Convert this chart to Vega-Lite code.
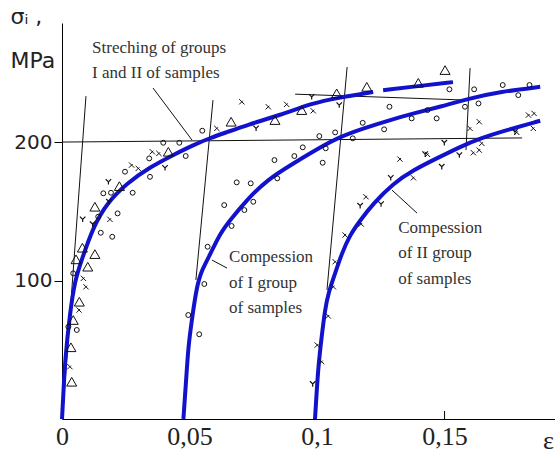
{
  "$schema": "https://vega.github.io/schema/vega-lite/v6.json",
  "width": 493,
  "height": 396,
  "autosize": {"type": "none"},
  "padding": {"left": 62, "top": 23, "right": 0, "bottom": 37},
  "background": "white",
  "config": {"view": {"stroke": null}},
  "datasets": {
    "refs": [
      {"ln": "h200", "eps": 0, "sigma": 200}, {"ln": "h200", "eps": 0.1804, "sigma": 203},
      {"ln": "hup", "eps": 0.0914, "sigma": 234.6}, {"ln": "hup", "eps": 0.1588, "sigma": 230.3},
      {"ln": "v1", "eps": 0.0094, "sigma": 233.2}, {"ln": "v1", "eps": 0.0004, "sigma": 6.5},
      {"ln": "v2", "eps": 0.0592, "sigma": 230.3}, {"ln": "v2", "eps": 0.0525, "sigma": 100.4},
      {"ln": "v3", "eps": 0.1118, "sigma": 254.2}, {"ln": "v3", "eps": 0.1039, "sigma": 93.1},
      {"ln": "v4", "eps": 0.16, "sigma": 253.4}, {"ln": "v4", "eps": 0.1584, "sigma": 194.2},
      {"ln": "l1", "eps": 0.0357, "sigma": 239.0}, {"ln": "l1", "eps": 0.051, "sigma": 201.4},
      {"ln": "l2", "eps": 0.0588, "sigma": 114.8}, {"ln": "l2", "eps": 0.0647, "sigma": 109.0},
      {"ln": "l3", "eps": 0.1294, "sigma": 165.3}, {"ln": "l3", "eps": 0.1392, "sigma": 148.7}
    ],
    "curves": [
      {"c": "A", "eps": 0, "sigma": 0}, {"c": "A", "eps": 0.0006, "sigma": 20}, {"c": "A", "eps": 0.0012, "sigma": 42.6}, {"c": "A", "eps": 0.0031, "sigma": 76.5},
      {"c": "A", "eps": 0.0051, "sigma": 100.4}, {"c": "A", "eps": 0.0077, "sigma": 114.8}, {"c": "A", "eps": 0.0122, "sigma": 138.6},
      {"c": "A", "eps": 0.0176, "sigma": 156}, {"c": "A", "eps": 0.0255, "sigma": 170.4}, {"c": "A", "eps": 0.0345, "sigma": 181.9},
      {"c": "A", "eps": 0.0435, "sigma": 190.6}, {"c": "A", "eps": 0.0514, "sigma": 197.8}, {"c": "A", "eps": 0.058, "sigma": 202.9},
      {"c": "A", "eps": 0.0647, "sigma": 207.2}, {"c": "A", "eps": 0.0725, "sigma": 212.3}, {"c": "A", "eps": 0.0855, "sigma": 219.5},
      {"c": "A", "eps": 0.0984, "sigma": 228.2}, {"c": "A", "eps": 0.1078, "sigma": 231.8}, {"c": "A", "eps": 0.122, "sigma": 236.1},
      {"c": "A2", "eps": 0.1259, "sigma": 237.5}, {"c": "A2", "eps": 0.1396, "sigma": 240.4}, {"c": "A2", "eps": 0.1533, "sigma": 243.3},
      {"c": "B", "eps": 0.0476, "sigma": 0}, {"c": "B", "eps": 0.0486, "sigma": 26}, {"c": "B", "eps": 0.0495, "sigma": 52.2}, {"c": "B", "eps": 0.0509, "sigma": 71.5},
      {"c": "B", "eps": 0.0528, "sigma": 95.5}, {"c": "B", "eps": 0.0548, "sigma": 107.6}, {"c": "B", "eps": 0.058, "sigma": 118.4},
      {"c": "B", "eps": 0.062, "sigma": 134.1}, {"c": "B", "eps": 0.0659, "sigma": 143.7}, {"c": "B", "eps": 0.0724, "sigma": 158.1},
      {"c": "B", "eps": 0.0803, "sigma": 172.6}, {"c": "B", "eps": 0.0907, "sigma": 184.6}, {"c": "B", "eps": 0.1012, "sigma": 196.2},
      {"c": "B", "eps": 0.109, "sigma": 203.8}, {"c": "B", "eps": 0.1182, "sigma": 209.9}, {"c": "B", "eps": 0.1286, "sigma": 215.9},
      {"c": "B", "eps": 0.1378, "sigma": 220.7}, {"c": "B", "eps": 0.1482, "sigma": 225.5}, {"c": "B", "eps": 0.16, "sigma": 231.6},
      {"c": "B", "eps": 0.1718, "sigma": 236.3}, {"c": "B", "eps": 0.1875, "sigma": 239.9},
      {"c": "C", "eps": 0.0992, "sigma": 0}, {"c": "C", "eps": 0.0998, "sigma": 18}, {"c": "C", "eps": 0.1005, "sigma": 37.8}, {"c": "C", "eps": 0.1018, "sigma": 59.4},
      {"c": "C", "eps": 0.1031, "sigma": 78.7}, {"c": "C", "eps": 0.1044, "sigma": 90.8}, {"c": "C", "eps": 0.1071, "sigma": 105.2},
      {"c": "C", "eps": 0.1097, "sigma": 119.6}, {"c": "C", "eps": 0.1129, "sigma": 132.9}, {"c": "C", "eps": 0.1169, "sigma": 143.5},
      {"c": "C", "eps": 0.1221, "sigma": 155.7}, {"c": "C", "eps": 0.1299, "sigma": 170.2},
      {"c": "C", "eps": 0.1378, "sigma": 179.8}, {"c": "C", "eps": 0.1469, "sigma": 188.2}, {"c": "C", "eps": 0.1561, "sigma": 196.6},
      {"c": "C", "eps": 0.1639, "sigma": 202.7}, {"c": "C", "eps": 0.1744, "sigma": 208.7}, {"c": "C", "eps": 0.1875, "sigma": 215.4}
    ],
    "pts": [
      {"m": "o", "eps": 0.055, "sigma": 208.2}, {"m": "o", "eps": 0.0397, "sigma": 199.5}, {"m": "o", "eps": 0.046, "sigma": 199.5},
      {"m": "o", "eps": 0.0485, "sigma": 189.9}, {"m": "o", "eps": 0.0342, "sigma": 188.2}, {"m": "o", "eps": 0.0247, "sigma": 178.6},
      {"m": "o", "eps": 0.0345, "sigma": 174.9}, {"m": "o", "eps": 0.0277, "sigma": 163.4}, {"m": "o", "eps": 0.0162, "sigma": 163.0},
      {"m": "o", "eps": 0.0192, "sigma": 163.4}, {"m": "o", "eps": 0.0218, "sigma": 148.5}, {"m": "o", "eps": 0.0142, "sigma": 146.1},
      {"m": "o", "eps": 0.0152, "sigma": 134.5}, {"m": "o", "eps": 0.0197, "sigma": 131.6}, {"m": "o", "eps": 0.0044, "sigma": 105.2},
      {"m": "o", "eps": 0.0025, "sigma": 66.6}, {"m": "o", "eps": 0.0058, "sigma": 64.3}, {"m": "o", "eps": 0.0685, "sigma": 170.9},
      {"m": "o", "eps": 0.0636, "sigma": 154.5}, {"m": "o", "eps": 0.0665, "sigma": 139.4}, {"m": "o", "eps": 0.0571, "sigma": 124.4},
      {"m": "o", "eps": 0.0558, "sigma": 97.5}, {"m": "o", "eps": 0.0495, "sigma": 75.1}, {"m": "o", "eps": 0.0538, "sigma": 61.2},
      {"m": "o", "eps": 0.1519, "sigma": 238.1}, {"m": "o", "eps": 0.1284, "sigma": 225.5}, {"m": "o", "eps": 0.1179, "sigma": 213.9},
      {"m": "o", "eps": 0.1371, "sigma": 217.1}, {"m": "o", "eps": 0.1433, "sigma": 223.1}, {"m": "o", "eps": 0.1469, "sigma": 217.1},
      {"m": "o", "eps": 0.1263, "sigma": 209.2}, {"m": "o", "eps": 0.1009, "sigma": 204.3}, {"m": "o", "eps": 0.1071, "sigma": 207.0},
      {"m": "o", "eps": 0.114, "sigma": 202.7}, {"m": "o", "eps": 0.0944, "sigma": 196.2}, {"m": "o", "eps": 0.0911, "sigma": 189.9},
      {"m": "o", "eps": 0.1034, "sigma": 195.5}, {"m": "o", "eps": 0.1022, "sigma": 185.1}, {"m": "o", "eps": 0.0833, "sigma": 187.0},
      {"m": "o", "eps": 0.0844, "sigma": 173.8}, {"m": "o", "eps": 0.074, "sigma": 170.2}, {"m": "o", "eps": 0.075, "sigma": 156.9},
      {"m": "o", "eps": 0.0715, "sigma": 150.9}, {"m": "o", "eps": 0.1616, "sigma": 238.1}, {"m": "o", "eps": 0.1728, "sigma": 241.2},
      {"m": "o", "eps": 0.1833, "sigma": 241.2}, {"m": "o", "eps": 0.1789, "sigma": 233.9}, {"m": "o", "eps": 0.1633, "sigma": 227.9},
      {"m": "o", "eps": 0.158, "sigma": 225.5},
      {"m": "t", "eps": 0.0663, "sigma": 214.7}, {"m": "t", "eps": 0.0417, "sigma": 193.0}, {"m": "t", "eps": 0.0225, "sigma": 168.2},
      {"m": "t", "eps": 0.0129, "sigma": 153.3}, {"m": "t", "eps": 0.008, "sigma": 123.7}, {"m": "t", "eps": 0.0129, "sigma": 119.1},
      {"m": "t", "eps": 0.0055, "sigma": 115.3}, {"m": "t", "eps": 0.0101, "sigma": 110.0}, {"m": "t", "eps": 0.0068, "sigma": 84.7},
      {"m": "t", "eps": 0.0044, "sigma": 71.5}, {"m": "t", "eps": 0.0035, "sigma": 51.8}, {"m": "t", "eps": 0.0038, "sigma": 26.9},
      {"m": "t", "eps": 0.0835, "sigma": 215.9}, {"m": "t", "eps": 0.094, "sigma": 223.1}, {"m": "t", "eps": 0.1077, "sigma": 235.2},
      {"m": "t", "eps": 0.1195, "sigma": 239.9}, {"m": "t", "eps": 0.1397, "sigma": 242.8}, {"m": "t", "eps": 0.1502, "sigma": 252.0},
      {"m": "x", "eps": 0.0607, "sigma": 209.9}, {"m": "x", "eps": 0.0354, "sigma": 193.0}, {"m": "x", "eps": 0.038, "sigma": 191.8},
      {"m": "x", "eps": 0.0273, "sigma": 183.4}, {"m": "x", "eps": 0.0299, "sigma": 181.0}, {"m": "x", "eps": 0.0188, "sigma": 144.2},
      {"m": "x", "eps": 0.0084, "sigma": 101.6}, {"m": "x", "eps": 0.0094, "sigma": 95.5}, {"m": "x", "eps": 0.0067, "sigma": 78.7},
      {"m": "x", "eps": 0.0031, "sigma": 37.8}, {"m": "x", "eps": 0.0705, "sigma": 229.1}, {"m": "x", "eps": 0.0809, "sigma": 225.5},
      {"m": "x", "eps": 0.0881, "sigma": 227.2}, {"m": "x", "eps": 0.0985, "sigma": 222.6}, {"m": "x", "eps": 0.16, "sigma": 209.9},
      {"m": "x", "eps": 0.1636, "sigma": 214.7}, {"m": "x", "eps": 0.1646, "sigma": 199.1}, {"m": "x", "eps": 0.1613, "sigma": 192.3},
      {"m": "x", "eps": 0.1636, "sigma": 194.2}, {"m": "x", "eps": 0.1433, "sigma": 191.1}, {"m": "x", "eps": 0.1325, "sigma": 187.7},
      {"m": "x", "eps": 0.1378, "sigma": 174.2}, {"m": "x", "eps": 0.1192, "sigma": 160.5}, {"m": "x", "eps": 0.1783, "sigma": 207.0},
      {"m": "x", "eps": 0.1829, "sigma": 219.5}, {"m": "x", "eps": 0.1851, "sigma": 220.7}, {"m": "x", "eps": 0.1848, "sigma": 209.9},
      {"m": "x", "eps": 0.1173, "sigma": 140.8}, {"m": "x", "eps": 0.111, "sigma": 132.9}, {"m": "x", "eps": 0.1071, "sigma": 113.6},
      {"m": "x", "eps": 0.1064, "sigma": 95.5}, {"m": "x", "eps": 0.1044, "sigma": 74.4}, {"m": "x", "eps": 0.1001, "sigma": 53.4},
      {"m": "x", "eps": 0.1018, "sigma": 41.4},
      {"m": "y", "eps": 0.0404, "sigma": 181.4}, {"m": "y", "eps": 0.0182, "sigma": 171.3}, {"m": "y", "eps": 0.0184, "sigma": 156.9},
      {"m": "y", "eps": 0.0081, "sigma": 144.2}, {"m": "y", "eps": 0.012, "sigma": 140.8}, {"m": "y", "eps": 0.0761, "sigma": 209.9},
      {"m": "y", "eps": 0.1087, "sigma": 226.7}, {"m": "y", "eps": 0.0979, "sigma": 232.7}, {"m": "y", "eps": 0.1558, "sigma": 190.6},
      {"m": "y", "eps": 0.1499, "sigma": 199.5}, {"m": "y", "eps": 0.1489, "sigma": 182.2}, {"m": "y", "eps": 0.1424, "sigma": 191.3},
      {"m": "y", "eps": 0.1289, "sigma": 174.2}, {"m": "y", "eps": 0.1169, "sigma": 154.0}, {"m": "y", "eps": 0.1251, "sigma": 155.2},
      {"m": "y", "eps": 0.1776, "sigma": 207.4}, {"m": "y", "eps": 0.0983, "sigma": 25.3}
    ],
    "notes": [
      {"txt": "Streching of groups", "eps": 0.0118, "sigma": 267.9},
      {"txt": "I and II of samples", "eps": 0.0118, "sigma": 249.8},
      {"txt": "Compession", "eps": 0.0655, "sigma": 117.0},
      {"txt": "of I group", "eps": 0.0655, "sigma": 98.2},
      {"txt": "of samples", "eps": 0.0655, "sigma": 80.1},
      {"txt": "Compession", "eps": 0.1318, "sigma": 137.9},
      {"txt": "of II group", "eps": 0.1318, "sigma": 119.9},
      {"txt": "of samples", "eps": 0.1318, "sigma": 101.1}
    ],
    "xtick": [{"eps": 0.15, "s0": 0, "s1": 5.8}]
  },
  "layer": [
    {
      "data": {"name": "refs"},
      "mark": {"type": "line", "color": "#111", "strokeWidth": 1},
      "encoding": {
        "x": {
          "field": "eps", "type": "quantitative",
          "scale": {"domain": [0, 0.1933], "nice": false, "zero": false},
          "axis": {
            "values": [0, 0.05, 0.1, 0.15], "format": ".2~f",
            "labelExpr": "replace(datum.label, '.', ',')",
            "ticks": false, "grid": false, "domainColor": "black", "domainWidth": 1,
            "labelFont": "Liberation Sans Narrow", "labelFontSize": 26, "labelColor": "#222",
            "labelPadding": 4, "labelFlush": false, "labelOverlap": false,
            "title": "ε", "titleFont": "Liberation Serif", "titleFontSize": 26, "titleFontWeight": "normal",
            "titleColor": "#222", "titleX": 486, "titleY": 29, "titleAlign": "center", "titleBaseline": "alphabetic"
          }
        },
        "y": {
          "field": "sigma", "type": "quantitative",
          "scale": {"domain": [0, 286], "nice": false},
          "axis": {
            "values": [100, 200], "tickSize": 8, "tickColor": "black", "grid": false,
            "domainColor": "black", "domainWidth": 1,
            "labelFont": "DejaVu Sans", "labelFontSize": 20, "labelColor": "#222", "labelPadding": 2,
            "title": ["σᵢ ,", "MPa"], "titleAngle": 0, "titleAlign": "left", "titleBaseline": "alphabetic",
            "titleX": -52, "titleY": 0, "titleFont": "DejaVu Sans", "titleFontSize": 22,
            "titleFontWeight": "normal", "titleLineHeight": 44, "titleColor": "#222"
          }
        },
        "detail": {"field": "ln"}
      }
    },
    {
      "data": {"name": "xtick"},
      "mark": {"type": "rule", "color": "black", "strokeWidth": 1},
      "encoding": {
        "x": {"field": "eps", "type": "quantitative"},
        "y": {"field": "s0", "type": "quantitative"},
        "y2": {"field": "s1"}
      }
    },
    {
      "data": {"name": "curves"},
      "mark": {"type": "line", "color": "#1212cc", "strokeWidth": 4, "interpolate": "basis"},
      "encoding": {
        "x": {"field": "eps", "type": "quantitative"},
        "y": {"field": "sigma", "type": "quantitative"},
        "detail": {"field": "c"}
      }
    },
    {
      "data": {"name": "pts"},
      "transform": [{"filter": "datum.m === 'o'"}],
      "mark": {"type": "point", "shape": "circle", "size": 24, "filled": false, "stroke": "#111", "strokeWidth": 1, "opacity": 1},
      "encoding": {
        "x": {"field": "eps", "type": "quantitative"},
        "y": {"field": "sigma", "type": "quantitative"}
      }
    },
    {
      "data": {"name": "pts"},
      "transform": [{"filter": "datum.m === 't'"}],
      "mark": {"type": "point", "shape": "triangle-up", "size": 100, "filled": false, "stroke": "#111", "strokeWidth": 1, "opacity": 1},
      "encoding": {
        "x": {"field": "eps", "type": "quantitative"},
        "y": {"field": "sigma", "type": "quantitative"}
      }
    },
    {
      "data": {"name": "pts"},
      "transform": [{"filter": "datum.m === 'x'"}],
      "mark": {"type": "point", "shape": "M-1,-1L1,1M-1,1L0.4,-0.4", "size": 28, "filled": false, "stroke": "#111", "strokeWidth": 1, "opacity": 1},
      "encoding": {
        "x": {"field": "eps", "type": "quantitative"},
        "y": {"field": "sigma", "type": "quantitative"}
      }
    },
    {
      "data": {"name": "pts"},
      "transform": [{"filter": "datum.m === 'y'"}],
      "mark": {"type": "point", "shape": "M-1,-1L0,0L1,-1M0,0L0,1", "size": 30, "filled": false, "stroke": "#111", "strokeWidth": 1.2, "opacity": 1},
      "encoding": {
        "x": {"field": "eps", "type": "quantitative"},
        "y": {"field": "sigma", "type": "quantitative"}
      }
    },
    {
      "data": {"name": "notes"},
      "mark": {"type": "text", "align": "left", "baseline": "middle", "font": "Liberation Serif", "fontSize": 17, "color": "#333"},
      "encoding": {
        "x": {"field": "eps", "type": "quantitative"},
        "y": {"field": "sigma", "type": "quantitative"},
        "text": {"field": "txt"}
      }
    }
  ]
}
